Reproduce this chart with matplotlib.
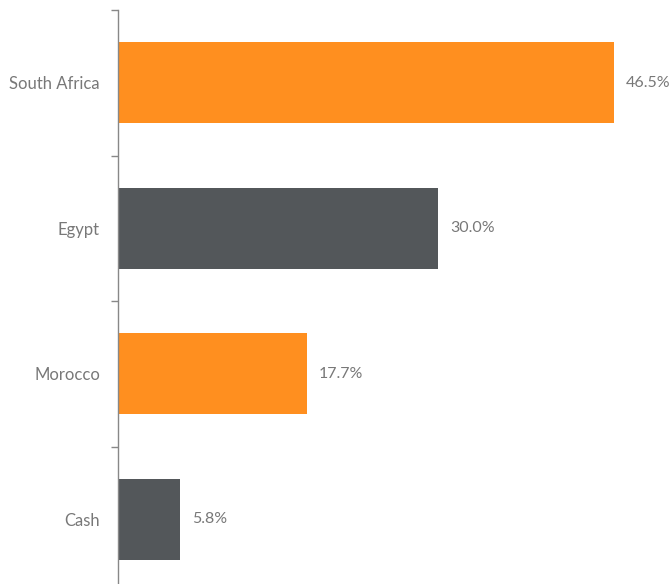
import matplotlib
matplotlib.use('Agg')
import matplotlib.pyplot as plt
from matplotlib.ticker import FixedLocator

categories = ['South Africa', 'Egypt', 'Morocco', 'Cash']
values = [46.5, 30.0, 17.7, 5.8]
colors = ['#FF8F1F', '#53575A', '#FF8F1F', '#53575A']

plt.rcParams['font.family'] = ['Lato', 'DejaVu Sans']
text_color = '#787878'

fig = plt.figure(figsize=(6.7, 5.84), dpi=100)
ax = fig.add_axes([118/670, -8/584, 552/670, 582/584])

pos = list(range(len(categories)))
ax.barh(pos, values, height=0.56, color=colors)
for p, v in zip(pos, values):
    ax.text(v + 1.1, p, '%.1f%%' % v, va='center', ha='left',
            fontsize=11.5, color=text_color)

ax.set_xlim(0, 51.7)
ax.set_ylim(len(categories) - 0.5, -0.5)

# tick marks at band boundaries, labels at band centres
ax.yaxis.set_major_locator(FixedLocator([i - 0.5 for i in range(len(categories) + 1)]))
ax.yaxis.set_minor_locator(FixedLocator(pos))
ax.yaxis.set_major_formatter(plt.NullFormatter())
ax.set_yticks(pos, categories, minor=True)
ax.tick_params(axis='y', which='major', length=5, width=1, color='#888888')
ax.tick_params(axis='y', which='minor', length=0, pad=13, labelsize=12,
               labelcolor=text_color)
ax.set_xticks([])

for s in ['top', 'right', 'bottom']:
    ax.spines[s].set_visible(False)
ax.spines['left'].set_color('#888888')
ax.spines['left'].set_linewidth(1)

plt.savefig('out.png', dpi=100)
plt.close()
